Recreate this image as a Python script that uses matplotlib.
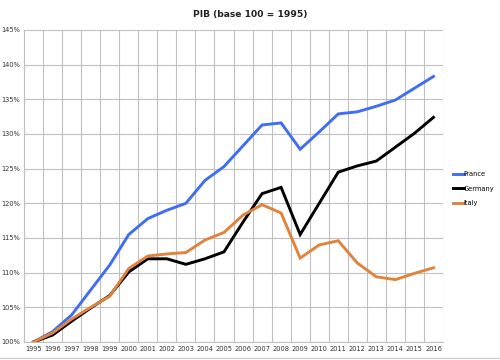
import matplotlib
matplotlib.use("Agg")
import matplotlib.pyplot as plt
from matplotlib.lines import Line2D
import numpy as np

years = [str(y) for y in range(1995, 2017)]
france = [100, 101.5, 103.9, 107.5, 111.1, 115.5, 117.8, 119.0, 120.0, 123.3, 125.3,
          128.3, 131.3, 131.6, 127.8, 130.3, 132.9, 133.2, 134.0, 134.9, 136.6, 138.3]
germany = [100, 101.0, 103.0, 104.9, 106.7, 110.1, 112.0, 112.0, 111.2, 112.0, 113.0,
           117.3, 121.4, 122.3, 115.5, 120.0, 124.5, 125.4, 126.1, 128.1, 130.1, 132.4]
italy = [100, 101.3, 103.3, 105.0, 106.6, 110.6, 112.4, 112.7, 112.9, 114.7, 115.8,
         118.3, 119.8, 118.6, 112.1, 114.0, 114.6, 111.4, 109.4, 109.0, 109.9, 110.7]
yticks = [100, 105, 110, 115, 120, 125, 130, 135, 140, 145]
ytick_labels = [f"{v}%" for v in yticks]

fig = plt.figure(figsize=(5, 3.6), dpi=100)
ax = fig.add_axes([24/500, 1-342/360, (443-24)/500, (342-30)/360])

x = np.arange(len(years))
l1, = ax.plot(x, france, color="#3F6EF4", lw=2.1, solid_joinstyle="miter", label="France")
l2, = ax.plot(x, germany, color="#000000", lw=2.1, solid_joinstyle="miter", label="Germany")
l3, = ax.plot(x, italy, color="#E0843D", lw=2.1, solid_joinstyle="miter", label="Italy")

ax.set_xlim(-0.5, len(years) - 0.5)
ax.set_ylim(100, 145)
ax.set_xticks(x)
ax.set_xticklabels(years, fontsize=4.8, color="#333333")
ax.set_xticks(np.arange(-0.5, len(years)), minor=True)
ax.set_yticks(yticks)
ax.set_yticklabels(ytick_labels, fontsize=4.8, color="#333333")
ax.tick_params(axis="both", which="both", length=0, pad=3)
ax.grid(True, which="minor", axis="x", color="#C0C0C0", lw=0.8)
ax.grid(True, which="major", axis="y", color="#C0C0C0", lw=0.8)
ax.grid(False, which="major", axis="x")
for s in ["top", "right"]:
    ax.spines[s].set_visible(False)
for s in ["left", "bottom"]:
    ax.spines[s].set_color("#C0C0C0")
    ax.spines[s].set_linewidth(0.8)
ax.set_axisbelow(True)

fig.text(0.5, 1-15/360, "PIB (base 100 = 1995)", ha="center", va="center",
         fontsize=6.6, fontweight="bold", color="#222222")

fig.legend(handles=[l1, l2, l3], loc="upper left",
           bbox_to_anchor=(453/500, 1-171/360), frameon=False,
           fontsize=4.8, handlelength=1.6, handletextpad=0.0,
           labelspacing=1.3, borderaxespad=0, borderpad=0)

fig.add_artist(Line2D([0, 1], [1-358/360, 1-358/360], color="#CCCCCC", lw=0.8))

fig.savefig("out.png", dpi=100)
